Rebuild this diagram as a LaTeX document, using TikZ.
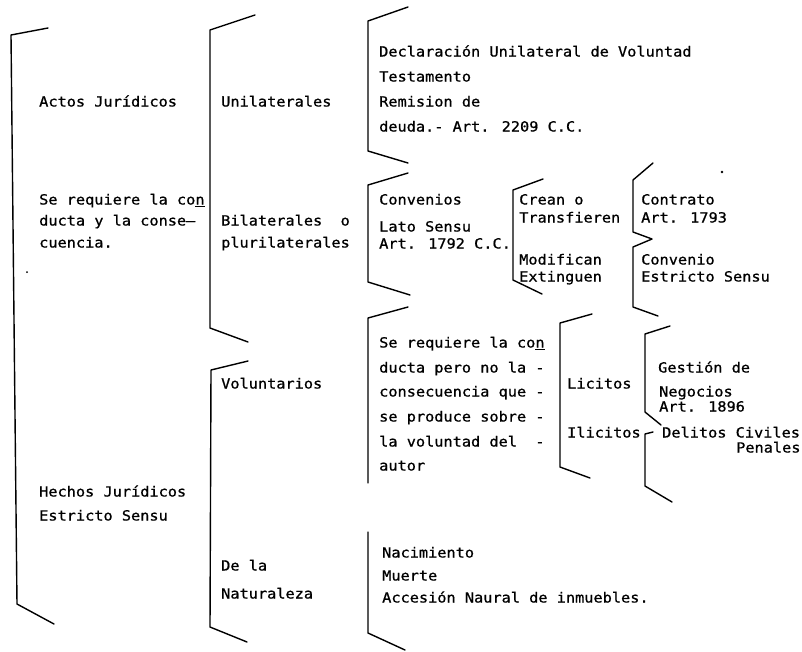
\documentclass[tikz,border=0pt]{standalone}
\usepackage{fontspec}
\newfontfamily\tw{DejaVu Sans Mono}[FakeStretch=1.09,FakeBold=0.8]
\begin{document}
\begin{tikzpicture}[x=1pt,y=-1pt,
  br/.style={line width=1.4pt, line join=round, line cap=round},
  t/.style={anchor=base west, inner sep=0pt, font=\tw\fontsize{14}{16}\selectfont}]
\useasboundingbox (0,0) rectangle (802,651);
% brackets
\draw[br] (48,28) -- (11,35) -- (17,604) -- (54,624);
\draw[br] (255,15) -- (210,30) -- (210,328) -- (248,342);
\draw[br] (408,7) -- (368,21) -- (368,151) -- (408,163);
\draw[br] (408,173) -- (368,185) -- (368,282) -- (410,295);
\draw[br] (543,179) -- (513,190) -- (513,280) -- (542,294);
\draw[br] (653,163) -- (633,180) -- (633,232) -- (652,239) -- (633,247) -- (633,307) -- (658,316);
\draw[br] (248,361) -- (211,370) -- (210,627) -- (247,642);
\draw[br] (408,307) -- (368,318) -- (368,483);
\draw[br] (592,314) -- (560,323) -- (560,467) -- (590,478);
\draw[br] (670,326) -- (645,334) -- (645,412) -- (661,425);
\draw[br] (653,432) -- (645,434) -- (645,486) -- (672,502);
\draw[br] (368,532) -- (368,633) -- (405,650);
% specks
\fill (722,172) circle (1.3);
\fill (27,272) circle (1);
% column 1
\node[t] (actos) at (39,106.5) {Actos Jurídicos};
\node[t] (sereqA) at (39,204.5) {Se requiere la co\underline{n}};
\node[t] (ductaA) at (39,225.5) {ducta y la conse—};
\node[t] (cuencia) at (39,247.5) {cuencia.};
\node[t] (hechos) at (39,496.5) {Hechos Jurídicos};
\node[t] (estrictoA) at (39,520.5) {Estricto Sensu};
% column 2
\node[t] (unilat) at (221,106.5) {Unilaterales};
\node[t] (bilat) at (221,225.5) {Bilaterales\ \ o};
\node[t] (pluri) at (221,247.5) {plurilaterales};
\node[t] (volunt) at (221,388.5) {Voluntarios};
\node[t] (dela) at (221,570.5) {De la};
\node[t] (natur) at (221,598.5) {Naturaleza};
% column 3
\node[t] (decl) at (379,56.5) {Declaración Unilateral de Voluntad};
\node[t] (testa) at (379,81.5) {Testamento};
\node[t] (remis) at (379,106.5) {Remision de};
\node[t] (deuda) at (379,131.5) {deuda.- Art. 2209 C.C.};
\node[t] (conven) at (379,204.5) {Convenios};
\node[t] (lato) at (379,231.5) {Lato Sensu};
\node[t] (artA) at (379,248.5) {Art. 1792 C.C.};
\node[t] (sereqB) at (379,347.5) {Se requiere la co\underline{n}};
\node[t] (ductaB) at (379,372.5) {ducta pero no la -};
\node[t] (consec) at (379,396.5) {consecuencia que -};
\node[t] (produce) at (379,421.5) {se produce sobre -};
\node[t] (volB) at (379,446.5) {la voluntad del\ \ -};
\node[t] (autor) at (379,470.5) {autor};
\node[t] (nac) at (382,557.5) {Nacimiento};
\node[t] (muerte) at (382,580.5) {Muerte};
\node[t] (acces) at (382,602.5) {Accesión Naural de inmuebles.};
% column 4
\node[t] (crean) at (519,204.5) {Crean o};
\node[t] (transf) at (519,222.5) {Transfieren};
\node[t] (modif) at (519,264.5) {Modifican};
\node[t] (extin) at (519,281.5) {Extinguen};
\node[t] (licit) at (567,388.5) {Licitos};
\node[t] (ilicit) at (567,437.5) {Ilicitos};
% column 5
\node[t] (contr) at (641,204.5) {Contrato};
\node[t] (artB) at (641,222.5) {Art. 1793};
\node[t] (convB) at (641,264.5) {Convenio};
\node[t] (estrB) at (641,281.5) {Estricto Sensu};
\node[t] (gest) at (658,372.5) {Gestión de};
\node[t] (negoc) at (659,396.5) {Negocios};
\node[t] (artC) at (659,411.5) {Art. 1896};
\node[t] (delit) at (662,437.5) {Delitos Civiles};
\node[t] (penal) at (736,452.5) {Penales};
\end{tikzpicture}
\end{document}
